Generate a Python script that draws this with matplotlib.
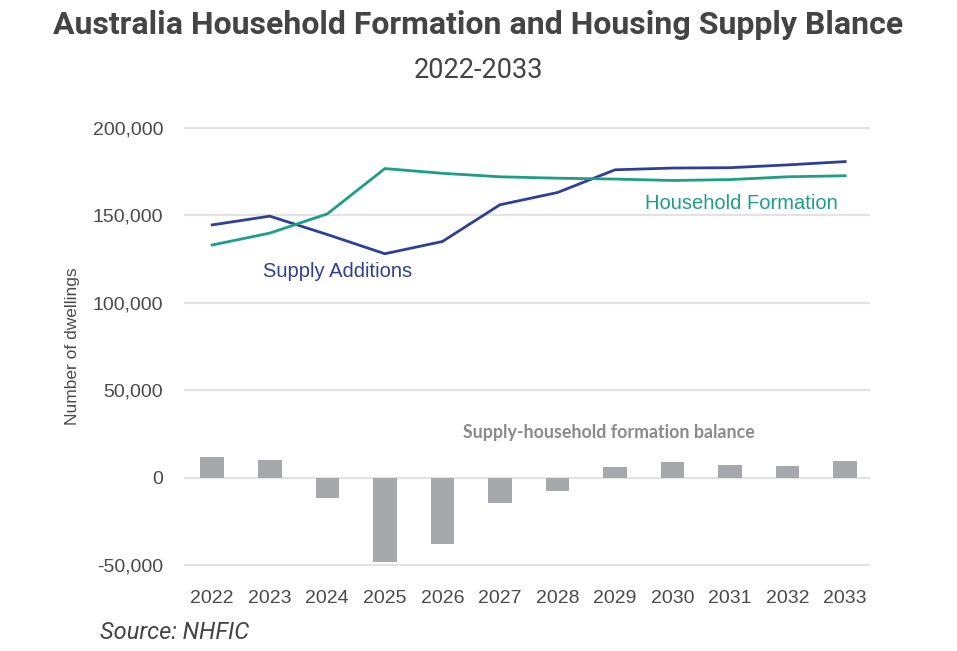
import matplotlib.pyplot as plt
import numpy as np

years = ["2022", "2023", "2024", "2025", "2026", "2027",
         "2028", "2029", "2030", "2031", "2032", "2033"]
supply_additions = [144500, 149500, 139000, 128000, 135000, 156000,
                    163000, 176000, 177000, 177200, 178800, 180700]
household_formation = [133000, 139800, 150800, 176700, 174000, 172000,
                       171200, 170700, 169900, 170400, 172000, 172600]
balance = [11800, 9900, -11600, -48400, -38100, -14300,
           -7400, 5900, 8800, 7200, 6500, 9300]
y_ticks = [-50000, 0, 50000, 100000, 150000, 200000]

BLUE = "#2e3f96"
GREEN = "#1f9e86"
BAR = "#a7a8ab"
TXT = "#4a4a4a"
TICK_FONT = "Liberation Sans"

fig = plt.figure(figsize=(9.57, 6.51), dpi=100)
ax = fig.add_axes([0.1923, 0.1306, 0.7167, 0.6744])

x = np.arange(len(years))

# 网格线
for t in y_ticks:
    ax.axhline(t, color="#e3e3e3", lw=1.6, zorder=0)

ax.bar(x, balance, width=0.41, color=BAR, zorder=2)
ax.plot(x, supply_additions, color=BLUE, lw=2, zorder=3)
ax.plot(x, household_formation, color=GREEN, lw=2, zorder=3)

ax.set_xlim(-0.49, 11.43)
ax.set_ylim(-50500, 200500)
ax.set_yticks(y_ticks)
ax.set_yticklabels([f"{v:,}" for v in y_ticks])
ax.set_xticks(x)
ax.set_xticklabels(years)
for s in ax.spines.values():
    s.set_visible(False)
ax.tick_params(length=0, colors=TXT, labelsize=14)
ax.tick_params(axis="y", pad=15)
ax.tick_params(axis="x", pad=17)
for lab in ax.get_xticklabels() + ax.get_yticklabels():
    lab.set_family(TICK_FONT)
ax.set_ylabel("Number of dwellings", family=TICK_FONT,
              fontsize=12.5, color=TXT, labelpad=9)

ax.text(0.886, 117700, "Supply Additions", color=BLUE, fontsize=14.5,
        family="Liberation Sans", ha="left", va="center")
ax.text(7.52, 157000, "Household Formation", color=GREEN, fontsize=14.5,
        family="Liberation Sans", ha="left", va="center")
ax.text(4.36, 25700, "Supply-household formation balance", color="#8a8a8c",
        fontsize=12.8, family="Lato", fontweight="bold",
        ha="left", va="center")

fig.text(0.5, 0.962, "Australia Household Formation and Housing Supply Blance",
         ha="center", va="center", fontsize=23, fontweight="bold",
         family="Roboto", color="#444444")
fig.text(0.5, 0.892, "2022-2033", ha="center", va="center", fontsize=19.5,
         family="Roboto", color="#444444")
fig.text(0.104, 0.029, "Source: NHFIC", ha="left", va="center",
         fontsize=17, style="italic", family="Roboto", color="#444444")

fig.savefig("out.png", dpi=100)
